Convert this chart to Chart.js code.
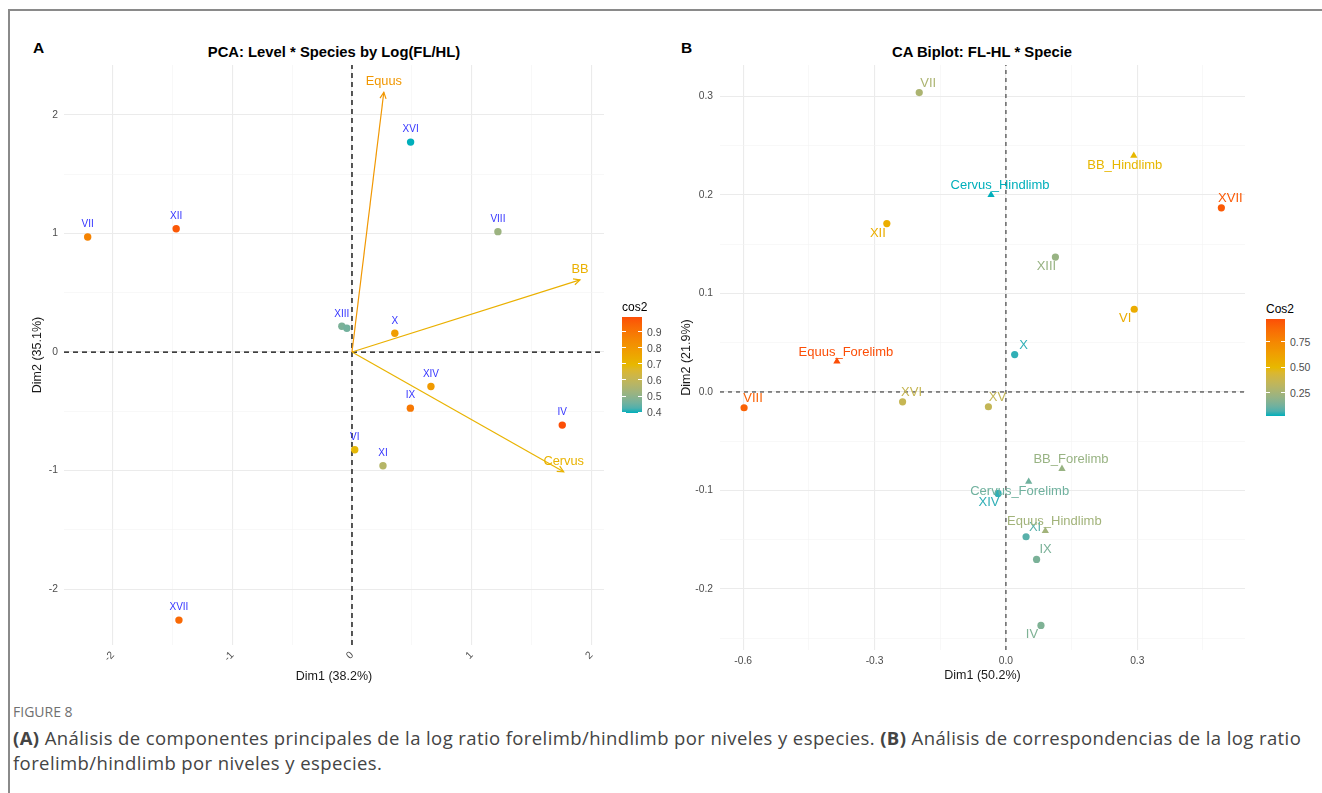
<!DOCTYPE html>
<html><head><meta charset="utf-8">
<script src="https://cdn.jsdelivr.net/npm/chart.js@4.4.1/dist/chart.umd.min.js"></script>
<style>
html,body{margin:0;padding:0;background:#fff;}
body{width:1322px;height:793px;position:relative;overflow:hidden;font-family:"Liberation Sans",Arial,Helvetica,sans-serif;}
#frame{position:absolute;left:8px;top:9px;width:1400px;height:900px;border-left:2px solid #8a8a8a;border-top:2px solid #8a8a8a;box-sizing:border-box;}
.letter{position:absolute;font-weight:bold;font-size:15.5px;color:#000;line-height:1;}
.ptitle{position:absolute;font-weight:bold;font-size:14.8px;color:#000;transform:translate(-50%,-50%);white-space:nowrap;line-height:1;}
.cv{position:absolute;}
.lgTitle{position:absolute;font-size:12px;color:#000;line-height:1;transform:translateY(-50%);}
.lgBar{position:absolute;}
.lgLab{position:absolute;font-size:10.5px;color:#4d4d4d;line-height:1;transform:translateY(-50%);}
.lgTick{position:absolute;height:1px;background:#fff;}
#fig{position:absolute;left:13px;top:704px;font-family:"Open Sans",sans-serif;font-size:14px;color:#707070;line-height:1.2;}
#cap{position:absolute;left:13px;top:725px;font-family:"Open Sans",sans-serif;font-size:18.5px;letter-spacing:0.4px;line-height:25px;color:#444;white-space:nowrap;}
</style></head>
<body>
<div id="frame"></div>
<div class="letter" style="left:33px;top:40px;">A</div>
<div class="ptitle" style="left:334px;top:52px;">PCA: Level * Species by Log(FL/HL)</div>
<div class="letter" style="left:681px;top:40px;">B</div>
<div class="ptitle" style="left:982px;top:52px;">CA Biplot: FL-HL * Specie</div>
<canvas id="cA" class="cv" width="640" height="650" style="left:10px;top:40px;width:640px;height:650px;"></canvas>
<canvas id="cB" class="cv" width="600" height="650" style="left:660px;top:40px;width:600px;height:650px;"></canvas>
<div id="legA"></div>
<div id="legB"></div>
<div id="fig">FIGURE 8</div>
<div id="cap"><b>(A)</b> Análisis de componentes principales de la log ratio forelimb/hindlimb por niveles y especies. <b>(B)</b> Análisis de correspondencias de la log ratio<br>forelimb/hindlimb por niveles y especies.</div>
<script>
// ---------------- Data: panel A (PCA) ----------------
const pcaLevels = ['VII','XII','XVI','VIII','XIII','XV','X','XIV','IX','IV','VI','XI','XVII'];
const pcaDim1   = [-2.21,-1.47,0.49,1.22,-0.085,-0.043,0.358,0.66,0.488,1.758,0.023,0.259,-1.447];
const pcaDim2   = [0.97,1.04,1.77,1.015,0.217,0.20,0.158,-0.29,-0.473,-0.616,-0.824,-0.959,-2.26];
const pcaCos2   = [0.86,0.97,0.395,0.52,0.47,0.46,0.78,0.79,0.89,0.99,0.69,0.57,0.93];
const pcaVars     = ['Equus','BB','Cervus'];
const pcaVarDim1  = [0.266,1.906,1.77];
const pcaVarDim2  = [2.19,0.608,-1.01];
const pcaVarCos2  = [0.80,0.72,0.71];
const pcaTicksX = [-2,-1,0,1,2];
const pcaTicksY = [-2,-1,0,1,2];
const pcaLegendTicks = [0.4,0.5,0.6,0.7,0.8,0.9];

// ---------------- Data: panel B (CA) ----------------
const caRows     = ['VII','XII','XVII','XIII','VI','X','VIII','XVI','XV','XIV','XI','IX','IV'];
const caRowDim1  = [-0.198,-0.272,0.492,0.113,0.293,0.020,-0.598,-0.236,-0.040,-0.018,0.046,0.070,0.080];
const caRowDim2  = [0.304,0.171,0.187,0.137,0.084,0.038,-0.016,-0.010,-0.015,-0.103,-0.147,-0.170,-0.237];
const caRowCos2  = [0.27,0.55,0.93,0.21,0.56,0.04,0.90,0.36,0.35,0.04,0.08,0.14,0.15];
const caCols     = ['BB_Hindlimb','Cervus_Hindlimb','Equus_Forelimb','BB_Forelimb','Cervus_Forelimb','Equus_Hindlimb'];
const caColDim1  = [0.292,-0.034,-0.386,0.128,0.052,0.090];
const caColDim2  = [0.240,0.200,0.031,-0.078,-0.091,-0.141];
const caColCos2  = [0.50,0.022,0.97,0.21,0.12,0.24];
const caTicksX = [-0.6,-0.3,0.0,0.3];
const caTicksY = [-0.2,-0.1,0.0,0.1,0.2,0.3];
const caLegendTicks = [0.25,0.50,0.75];

// ---------------- Styling (label placement for repelled labels) ----------------
const caRowLabelDir = [[1,-1],[-1,1],[1,-1],[-1,1],[-1,1],[1,-1],[1,-1],[1,-1],[1,-1],[-1,1],[1,-1],[1,-1],[-1,1]];
const caColLabelDir = [[-1,1],[1,-1],[1,-1],[1,-1],[-1,1],[1,-1]];

const FF = '"Liberation Sans", Arial, Helvetica, sans-serif';
const GRAD = ['#00AFBB','#E7B800','#FC4E07'];

// ---- Lab colour interpolation (like ggplot gradientn) ----
function hex2rgb(h){return [parseInt(h.substr(1,2),16),parseInt(h.substr(3,2),16),parseInt(h.substr(5,2),16)];}
function s2l(c){c/=255;return c<=0.04045?c/12.92:Math.pow((c+0.055)/1.055,2.4);}
function l2s(c){const v=c<=0.0031308?12.92*c:1.055*Math.pow(c,1/2.4)-0.055;return Math.round(Math.max(0,Math.min(1,v))*255);}
function rgb2lab(rgb){const r=s2l(rgb[0]),g=s2l(rgb[1]),b=s2l(rgb[2]);
  const X=(0.4124*r+0.3576*g+0.1805*b)/0.95047,Y=0.2126*r+0.7152*g+0.0722*b,Z=(0.0193*r+0.1192*g+0.9505*b)/1.08883;
  const f=t=>t>0.008856?Math.cbrt(t):7.787*t+16/116;
  return [116*f(Y)-16,500*(f(X)-f(Y)),200*(f(Y)-f(Z))];}
function lab2rgb(lab){const fy=(lab[0]+16)/116,fx=fy+lab[1]/500,fz=fy-lab[2]/200;
  const fi=t=>{const t3=t*t*t;return t3>0.008856?t3:(t-16/116)/7.787;};
  const X=fi(fx)*0.95047,Y=fi(fy),Z=fi(fz)*1.08883;
  return [l2s(3.2406*X-1.5372*Y-0.4986*Z),l2s(-0.9689*X+1.8758*Y+0.0415*Z),l2s(0.0557*X-0.2040*Y+1.0570*Z)];}
const GLAB = GRAD.map(h=>rgb2lab(hex2rgb(h)));
function gradColor(t){t=Math.max(0,Math.min(1,t));const s=t*2;const i=Math.min(1,Math.floor(s));const u=s-i;
  const a=GLAB[i],b=GLAB[i+1];const c=lab2rgb([a[0]+(b[0]-a[0])*u,a[1]+(b[1]-a[1])*u,a[2]+(b[2]-a[2])*u]);
  return 'rgb('+c[0]+','+c[1]+','+c[2]+')';}
function scaleFn(vals){const lo=Math.min(...vals),hi=Math.max(...vals);return {lo,hi,col:v=>gradColor((v-lo)/(hi-lo))};}

const scA = scaleFn(pcaCos2.concat(pcaVarCos2));
const scB = scaleFn(caRowCos2.concat(caColCos2));

function inList(v,list){return list.some(t=>Math.abs(t-v)<1e-6);}

// ---- plugin: labels + arrowheads ----
const annot = {
  id:'annot',
  afterDatasetsDraw(chart){
    const ctx=chart.ctx; const placed=[];
    chart.data.datasets.forEach((ds,di)=>{
      const meta=chart.getDatasetMeta(di);
      if(ds.arrow){
        const p0=meta.data[0],p1=meta.data[1];
        const ang=Math.atan2(p1.y-p0.y,p1.x-p0.x),L=7,a=Math.PI/7;
        ctx.save();ctx.strokeStyle=ds.borderColor;ctx.lineWidth=1.2;ctx.beginPath();
        ctx.moveTo(p1.x-L*Math.cos(ang-a),p1.y-L*Math.sin(ang-a));ctx.lineTo(p1.x,p1.y);
        ctx.lineTo(p1.x-L*Math.cos(ang+a),p1.y-L*Math.sin(ang+a));ctx.stroke();
        ctx.font='12.8px '+FF;ctx.fillStyle=ds.borderColor;ctx.textAlign='center';ctx.textBaseline='middle';
        ctx.fillText(ds.tipLabel,p1.x,p1.y-10.5);ctx.restore();
      }
      if(ds.ptLabels){
        ctx.save();ctx.font=ds.labelFont;ctx.textAlign='center';ctx.textBaseline='middle';
        ds.ptLabels.forEach((txt,i)=>{
          const p=meta.data[i];let x=p.x,y=p.y;
          if(ds.labelDir){x+=ds.labelDir[i][0]*9;y+=ds.labelDir[i][1]*9.5;} else {y+=ds.labelDy;}
          const w=ctx.measureText(txt).width,h=ds.labelH;
          const box=[x-w/2,y-h/2,x+w/2,y+h/2];
          if(ds.checkOverlap){
            if(placed.some(b=>box[0]<b[2]&&box[2]>b[0]&&box[1]<b[3]&&box[3]>b[1]))return;
            placed.push(box);
          }
          ctx.fillStyle=Array.isArray(ds.labelColor)?ds.labelColor[i]:ds.labelColor;
          ctx.fillText(txt,x,y);
        });
        ctx.restore();
      }
    });
  }
};

function axisOpts(o){
  return {
    type:'linear',min:o.min,max:o.max,position:o.pos,
    ticks:{stepSize:o.step,includeBounds:false,maxTicksLimit:1000,autoSkip:false,
      minRotation:o.rot||0,maxRotation:o.rot||0,padding:o.pad,color:'#4d4d4d',font:{size:o.fs||10.3,family:FF},
      callback:v=>inList(v,o.major)?o.fmt(v):''},
    grid:{drawTicks:false,
      color:c=>inList(c.tick.value,o.major)?'#ebebeb':'#f3f3f3',
      lineWidth:c=>inList(c.tick.value,o.major)?1.1:0.6},
    border:{display:false},
    title:{display:true,text:o.title,color:'#1a1a1a',font:{size:12.5,family:FF},padding:0},
    afterFit:s=>{if(o.pos==='bottom')s.height=o.size;else s.width=o.size;}
  };
}

// ---------------- Chart A ----------------
const AX=[-2.408,2.107], AY=[-2.47,2.42];
const dsA=[
  {data:[{x:AX[0],y:0},{x:AX[1],y:0}],showLine:true,borderColor:'#000',borderWidth:1.3,borderDash:[5,4],pointRadius:0,order:5},
  {data:[{x:0,y:AY[0]},{x:0,y:AY[1]}],showLine:true,borderColor:'#000',borderWidth:1.3,borderDash:[5,4],pointRadius:0,order:5}
];
pcaVars.forEach((v,i)=>{
  dsA.push({data:[{x:0,y:0},{x:pcaVarDim1[i],y:pcaVarDim2[i]}],showLine:true,borderColor:scA.col(pcaVarCos2[i]),
    borderWidth:1.2,pointRadius:0,order:3,arrow:true,tipLabel:v});
});
dsA.push({data:pcaLevels.map((l,i)=>({x:pcaDim1[i],y:pcaDim2[i]})),pointRadius:3.7,pointBorderWidth:0,
  pointBackgroundColor:pcaCos2.map(c=>scA.col(c)),order:1,
  ptLabels:pcaLevels,labelColor:'#3535ff',labelFont:'10px '+FF,labelDy:-12.5,labelH:9,checkOverlap:true});

new Chart(document.getElementById('cA'),{
  type:'scatter',data:{datasets:dsA},
  options:{responsive:false,animation:false,devicePixelRatio:1,events:[],
    layout:{padding:{left:19.7,top:25,right:46,bottom:5.5}},
    plugins:{legend:{display:false},tooltip:{enabled:false}},
    scales:{
      x:axisOpts({min:AX[0],max:AX[1],pos:'bottom',step:0.5,major:pcaTicksX,rot:45,pad:4,fmt:v=>String(Math.round(v)),title:'Dim1 (38.2%)',size:39.5}),
      y:axisOpts({min:AY[0],max:AY[1],pos:'left',step:0.5,major:pcaTicksY,pad:6,fmt:v=>String(Math.round(v)),title:'Dim2 (35.1%)',size:34.3})
    }},
  plugins:[annot]
});

// ---------------- Chart B ----------------
const BX=[-0.653,0.546], BY=[-0.262,0.332];
const dsB=[
  {data:[{x:BX[0],y:0},{x:BX[1],y:0}],showLine:true,borderColor:'#333',borderWidth:1.1,borderDash:[4,4],pointRadius:0,order:5},
  {data:[{x:0,y:BY[0]},{x:0,y:BY[1]}],showLine:true,borderColor:'#333',borderWidth:1.1,borderDash:[4,4],pointRadius:0,order:5},
  {data:caRows.map((l,i)=>({x:caRowDim1[i],y:caRowDim2[i]})),pointRadius:3.6,pointBorderWidth:0,
    pointBackgroundColor:caRowCos2.map(c=>scB.col(c)),order:2,
    ptLabels:caRows,labelDir:caRowLabelDir,labelColor:caRowCos2.map(c=>scB.col(c)),labelFont:'13px '+FF,labelH:11},
  {data:caCols.map((l,i)=>({x:caColDim1[i],y:caColDim2[i]})),pointStyle:'triangle',pointRadius:4.2,pointBorderWidth:0,
    pointBackgroundColor:caColCos2.map(c=>scB.col(c)),order:1,
    ptLabels:caCols,labelDir:caColLabelDir,labelColor:caColCos2.map(c=>scB.col(c)),labelFont:'13px '+FF,labelH:11}
];
new Chart(document.getElementById('cB'),{
  type:'scatter',data:{datasets:dsB},
  options:{responsive:false,animation:false,devicePixelRatio:1,events:[],
    layout:{padding:{left:18.6,top:25,right:15,bottom:6.6}},
    plugins:{legend:{display:false},tooltip:{enabled:false}},
    scales:{
      x:axisOpts({min:BX[0],max:BX[1],pos:'bottom',step:0.15,major:caTicksX,pad:5,fmt:v=>v.toFixed(1),title:'Dim1 (50.2%)',size:33.4}),
      y:axisOpts({min:BY[0],max:BY[1],pos:'left',step:0.05,major:caTicksY,pad:7,fmt:v=>v.toFixed(1),title:'Dim2 (21.9%)',size:41.4})
    }},
  plugins:[annot]
});

// ---------------- Colour-bar legends ----------------
function legend(el,sc,ticks,title,x,top,w,h,fmt){
  let stops=[];for(let k=0;k<=20;k++){stops.push(gradColor(1-k/20)+' '+(k*5)+'%');}
  let html='<div class="lgTitle" style="left:'+x+'px;top:'+(top-10)+'px;">'+title+'</div>';
  html+='<div class="lgBar" style="left:'+x+'px;top:'+top+'px;width:'+w+'px;height:'+h+'px;background:linear-gradient(to bottom,'+stops.join(',')+');"></div>';
  ticks.forEach(t=>{
    const y=top+h*(sc.hi-t)/(sc.hi-sc.lo);
    html+='<div class="lgTick" style="left:'+x+'px;top:'+(y-0.5)+'px;width:'+(w/5)+'px;"></div>';
    html+='<div class="lgTick" style="left:'+(x+w-w/5)+'px;top:'+(y-0.5)+'px;width:'+(w/5)+'px;"></div>';
    html+='<div class="lgLab" style="left:'+(x+w+5)+'px;top:'+y+'px;">'+fmt(t)+'</div>';
  });
  document.getElementById(el).innerHTML=html;
}
legend('legA',scA,pcaLegendTicks,'cos2',622,317,20,96,v=>v.toFixed(1));
legend('legB',scB,caLegendTicks,'Cos2',1266,319,19,97,v=>v.toFixed(2));
</script>
</body></html>
